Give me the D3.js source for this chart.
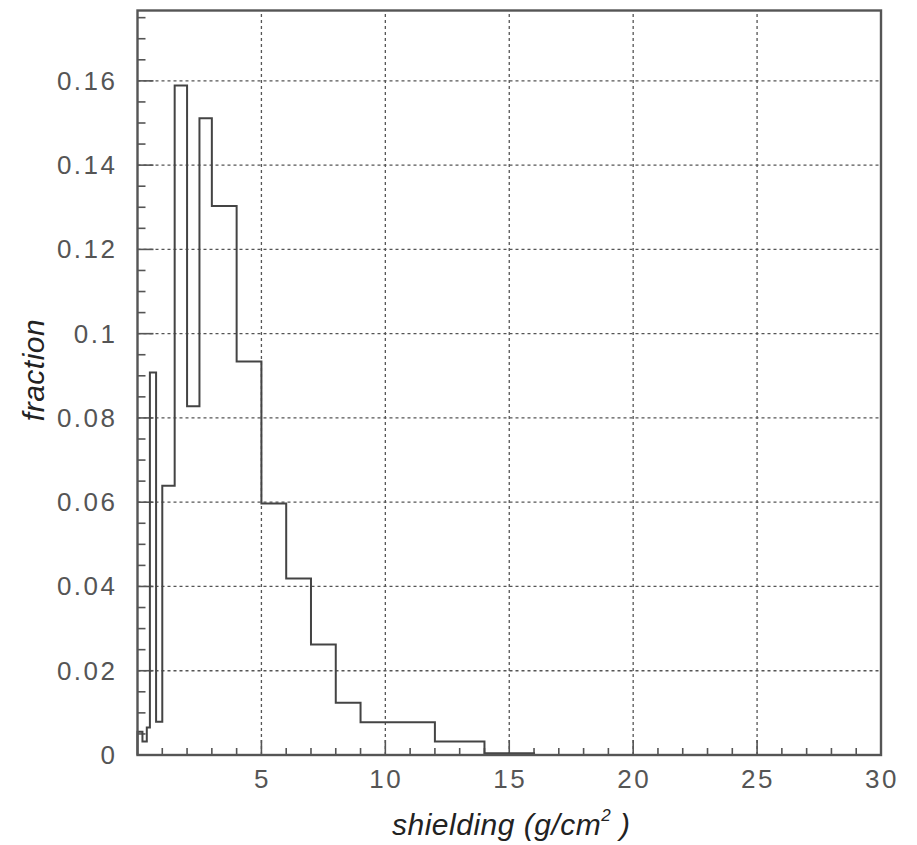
<!DOCTYPE html>
<html>
<head>
<meta charset="utf-8">
<script src="https://cdn.jsdelivr.net/npm/d3@7"></script>
<style>
  body { margin: 0; background: #fff; }
  .tick-label { font-family: "Liberation Sans", Arial, sans-serif; font-size: 26px; fill: #555; letter-spacing: 2.5px; }
  .axis-title { font-family: "Liberation Sans", Arial, sans-serif; font-size: 30px; font-style: italic; fill: #222; letter-spacing: 0.5px; }
</style>
</head>
<body>
<div id="chart"></div>
<script>
// bin edges (g/cm2) and fraction per bin
const binEdges = [0, 0.2, 0.375, 0.5, 0.75, 1.0, 1.5, 2.0, 2.5, 3, 4, 5, 6, 7, 8, 9, 10, 12, 14, 16];
const fractions = [0.0055, 0.0032, 0.0065, 0.0908, 0.0079, 0.0639, 0.1589, 0.0828, 0.1511, 0.1303, 0.0934, 0.0597, 0.0419, 0.0262, 0.0124, 0.0078, 0.0078, 0.0032, 0.0004];

const xMajor = [5, 10, 15, 20, 25, 30];
const yMajor = [0, 0.02, 0.04, 0.06, 0.08, 0.1, 0.12, 0.14, 0.16];
const yLabels = ["0", "0.02", "0.04", "0.06", "0.08", "0.1", "0.12", "0.14", "0.16"];

const width = 917, height = 845;
const margin = { top: 10.5, left: 137.5, right: 36, bottom: 90 };

const svg = d3.select("#chart")
    .append("svg")
    .attr("width", width)
    .attr("height", height);

const xScale = d3.scaleLinear()
    .domain([0, 30])
    .range([margin.left, width - margin.right]);

const yScale = d3.scaleLinear()
    .domain([0, 0.1767])
    .range([height - margin.bottom, margin.top]);

const x0 = xScale(0), x1 = xScale(30), y0 = yScale(0), y1 = yScale(0.1767);

// dotted grid
svg.append("g")
    .selectAll("line")
    .data(xMajor.filter(d => d < 30))
    .join("line")
    .attr("x1", d => xScale(d)).attr("x2", d => xScale(d))
    .attr("y1", y0).attr("y2", y1)
    .attr("stroke", "#555").attr("stroke-width", 1.3)
    .attr("stroke-dasharray", "3,3");

svg.append("g")
    .selectAll("line")
    .data(yMajor.filter(d => d > 0))
    .join("line")
    .attr("x1", x0).attr("x2", x1)
    .attr("y1", d => yScale(d)).attr("y2", d => yScale(d))
    .attr("stroke", "#555").attr("stroke-width", 1.3)
    .attr("stroke-dasharray", "3,3");

// ticks: minor every 1 on x, every 0.005 on y
const xTicks = d3.range(1, 30);
svg.append("g")
    .selectAll("line")
    .data(xTicks)
    .join("line")
    .attr("x1", d => xScale(d)).attr("x2", d => xScale(d))
    .attr("y1", y0).attr("y2", d => y0 - (d % 5 === 0 ? 15 : 7))
    .attr("stroke", "#555").attr("stroke-width", 1.6);

const yTicks = d3.range(1, 36).map(i => i * 0.005);
svg.append("g")
    .selectAll("line")
    .data(yTicks)
    .join("line")
    .attr("x1", x0).attr("x2", (d, i) => x0 + ((i + 1) % 4 === 0 ? 16 : 8))
    .attr("y1", d => yScale(d)).attr("y2", d => yScale(d))
    .attr("stroke", "#555").attr("stroke-width", 1.6);

// histogram outline
const line = d3.line().x(d => xScale(d[0])).y(d => yScale(d[1]));
let pts = [[binEdges[0], 0]];
fractions.forEach((f, i) => {
    pts.push([binEdges[i], f]);
    pts.push([binEdges[i + 1], f]);
});
pts.push([binEdges[binEdges.length - 1], 0]);

svg.append("path")
    .attr("d", line(pts))
    .attr("fill", "none")
    .attr("stroke", "#444")
    .attr("stroke-width", 2);

// frame
svg.append("rect")
    .attr("x", x0).attr("y", y1)
    .attr("width", x1 - x0).attr("height", y0 - y1)
    .attr("fill", "none")
    .attr("stroke", "#555")
    .attr("stroke-width", 2.4);

// tick labels
svg.append("g")
    .selectAll("text")
    .data(xMajor)
    .join("text")
    .attr("class", "tick-label")
    .attr("x", d => xScale(d) + 1)
    .attr("y", y0 + 33)
    .attr("text-anchor", "middle")
    .text(d => d);

svg.append("g")
    .selectAll("text")
    .data(yMajor)
    .join("text")
    .attr("class", "tick-label")
    .attr("x", x0 - 20)
    .attr("y", d => yScale(d) + 9)
    .attr("text-anchor", "end")
    .text((d, i) => yLabels[i]);

// axis titles
const xt = svg.append("text")
    .attr("class", "axis-title")
    .attr("x", 392)
    .attr("y", 835);
xt.append("tspan").text("shielding (g/cm");
xt.append("tspan").attr("font-size", "17px").attr("dy", -14).text("2");
xt.append("tspan").attr("dy", 14).text(" )");

svg.append("text")
    .attr("class", "axis-title")
    .attr("transform", "translate(44,370) rotate(-90)")
    .attr("text-anchor", "middle")
    .text("fraction");
</script>
</body>
</html>
